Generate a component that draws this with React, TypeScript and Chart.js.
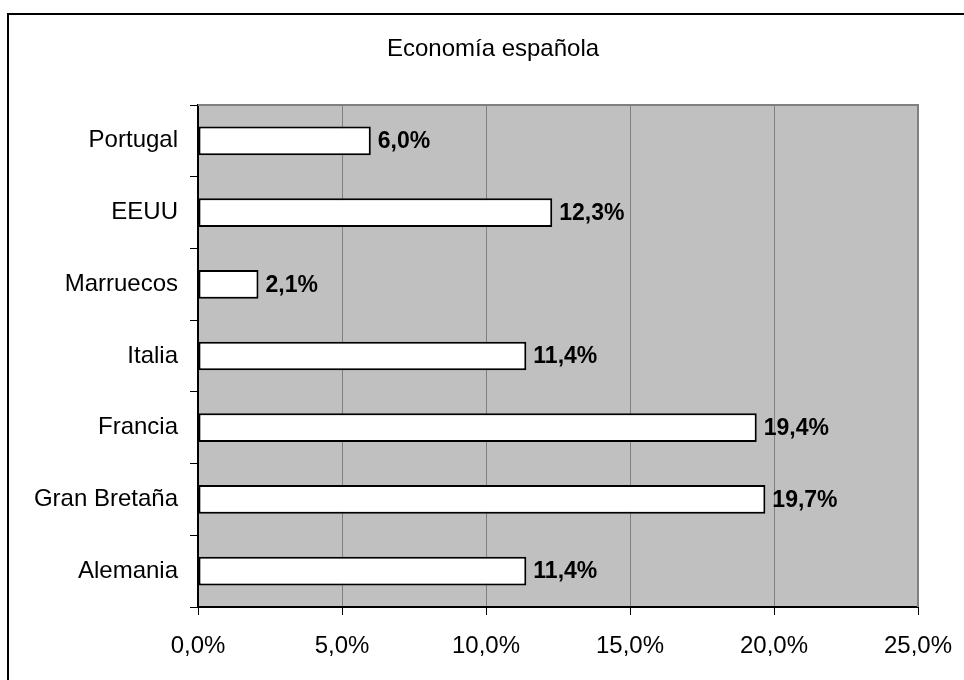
import React, { useEffect, useRef } from "react";
import { Chart, registerables } from "chart.js";

Chart.register(...registerables);

const titleText = "Economía española";
const categories = ["Portugal", "EEUU", "Marruecos", "Italia", "Francia", "Gran Bretaña", "Alemania"];
const shares = [6.0, 12.3, 2.1, 11.4, 19.4, 19.7, 11.4];
const xMin = 0;
const xMax = 25;
const xStep = 5;

const fmt = (v: number) => v.toFixed(1).replace(".", ",") + "%";
const FONT = "'Liberation Sans', Arial, sans-serif";

const plotBg = {
  id: "plotBg",
  beforeDraw(chart: any) {
    const { ctx, chartArea: a } = chart;
    ctx.save();
    ctx.fillStyle = "#c0c0c0";
    ctx.fillRect(a.left, a.top, a.right - a.left, a.bottom - a.top);
    ctx.restore();
  },
  beforeDatasetsDraw(chart: any) {
    const { ctx, chartArea: a } = chart;
    ctx.save();
    ctx.strokeStyle = "#808080";
    ctx.lineWidth = 2;
    ctx.beginPath();
    ctx.moveTo(a.left, a.top);
    ctx.lineTo(a.right, a.top);
    ctx.lineTo(a.right, a.bottom);
    ctx.stroke();
    ctx.restore();
  },
  afterDraw(chart: any) {
    const { ctx } = chart;
    ctx.save();
    ctx.font = `24px ${FONT}`;
    ctx.fillStyle = "#000";
    ctx.textAlign = "center";
    ctx.textBaseline = "middle";
    ctx.fillText(titleText, 493, 49);
    ctx.restore();
  },
};

const valueLabels = {
  id: "valueLabels",
  afterDatasetsDraw(chart: any) {
    const { ctx } = chart;
    const meta = chart.getDatasetMeta(0);
    ctx.save();
    ctx.font = `bold 23px ${FONT}`;
    ctx.fillStyle = "#000";
    ctx.textAlign = "left";
    ctx.textBaseline = "middle";
    meta.data.forEach((bar: any, i: number) => {
      ctx.fillText(fmt(shares[i]), bar.x + 7, bar.y + 1);
    });
    ctx.restore();
  },
};

export default function App() {
  const ref = useRef<HTMLCanvasElement | null>(null);
  useEffect(() => {
    if (!ref.current) return;
    const chart = new Chart(ref.current, {
      type: "bar",
      data: {
        labels: categories,
        datasets: [
          {
            data: shares,
            backgroundColor: "#ffffff",
            borderColor: "#000000",
            borderWidth: 2,
            borderSkipped: false,
            categoryPercentage: 1,
            barPercentage: 0.4,
          },
        ],
      },
      options: {
        indexAxis: "y",
        animation: false,
        responsive: false,
        maintainAspectRatio: false,
        layout: { padding: { left: 0, right: 46, top: 105, bottom: 0 } },
        plugins: {
          legend: { display: false },
          tooltip: { enabled: false },
          title: { display: false },
        },
        scales: {
          x: {
            min: xMin,
            max: xMax,
            ticks: {
              stepSize: xStep,
              color: "#000",
              font: { family: FONT, size: 24 },
              padding: 17,
              callback: (v: any) => fmt(Number(v)),
              maxRotation: 0,
            },
            grid: { color: "#808080", lineWidth: 1, tickColor: "#000", tickLength: 8, drawTicks: true },
            border: { color: "#000", width: 2 },
            afterFit: (s: any) => {
              s.height = 73;
              s.paddingLeft = 0;
              s.paddingRight = 0;
            },
          },
          y: {
            ticks: {
              color: "#000",
              font: { family: FONT, size: 24 },
              padding: 12,
            },
            grid: { drawOnChartArea: false, tickColor: "#000", tickLength: 8, offset: true },
            border: { color: "#000", width: 2 },
            afterFit: (s: any) => {
              s.width = 198;
              s.paddingTop = 0;
              s.paddingBottom = 0;
            },
          },
        },
      },
      plugins: [plotBg, valueLabels],
    });
    return () => chart.destroy();
  }, []);

  return (
    <>
      <div
        style={{
          position: "fixed",
          left: 7,
          top: 13,
          width: 2000,
          height: 2000,
          border: "2px solid #000",
          boxSizing: "border-box",
        }}
      />
      <canvas
        ref={ref}
        width={964}
        height={680}
        style={{ position: "fixed", left: 0, top: 0, width: 964, height: 680 }}
      />
    </>
  );
}
